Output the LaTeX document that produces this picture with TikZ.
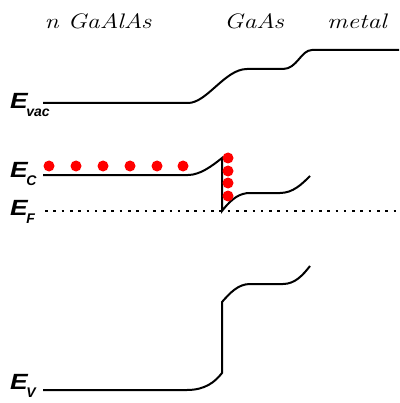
\documentclass[tikz,border=0pt]{standalone}
\usepackage{fontspec}
\newfontfamily\labfont{Liberation Sans}
\usepackage{tikz}

\tikzset{
  band/.style={line width=2pt},
  electron/.style={fill=red, draw=none},
  layer/.style={anchor=base, font=\fontsize{21}{24}\selectfont\itshape},
  level/.style={anchor=base west, inner sep=0pt, font=\labfont\bfseries\itshape\fontsize{22}{22}\selectfont}
}
\newcommand{\lvl}[2]{\scalebox{1.2}[1]{#1}\kern-1.5pt\raisebox{-8pt}{\fontsize{14}{14}\selectfont #2}}

\begin{document}
\begin{tikzpicture}[x=1pt,y=-1pt]
		\useasboundingbox (0,0) rectangle (399,403);

		% layer names
		\node[layer] (gaalas) at (98,29) {\scalebox{1.22}[1]{n GaAlAs}};
		\node[layer] (gaas) at (254,29) {\scalebox{1.22}[1]{GaAs}};
		\node[layer] (metal) at (357,29) {\scalebox{1.22}[1]{metal}};

		% level labels
		\node[level] (evac) at (10,109) {\lvl{E}{vac}};
		\node[level] (ec) at (10,178) {\lvl{E}{C}};
		\node[level] (ef) at (10,215) {\lvl{E}{F}};
		\node[level] (ev) at (10,389) {\lvl{E}{V}};

		% vacuum level
		\draw[band] (43,103) -- (188,103) .. controls (207,103) and (225,69) .. (247,69)
			-- (283,69) .. controls (297,69) and (301,50) .. (312,50) -- (399,50);

		% conduction band
		\draw[band] (43,175) -- (188,175) .. controls (200,175) and (212,166) .. (222,158)
			-- (222,211) .. controls (232,198) and (240,193) .. (250,193)
			-- (280,193) .. controls (293,193) and (302,184) .. (310,176);

		% Fermi level
		\draw[line width=2.6pt, dash pattern=on 2.6pt off 5.7pt] (45,211) -- (399,211);

		% valence band
		\draw[band] (43,390) -- (187,390) .. controls (205,390) and (215,382) .. (222,373)
			-- (222,302) .. controls (230,293) and (238,284) .. (250,284)
			-- (283,284) .. controls (295,284) and (303,275) .. (310,266);

		% electrons
		\foreach \x in {49,76,103,130,157,183}
			\fill[electron] (\x,166) circle (5.5);
		\foreach \y in {158,171,183,196}
			\fill[electron] (228,\y) circle (5.5);
	\end{tikzpicture}
\end{document}
